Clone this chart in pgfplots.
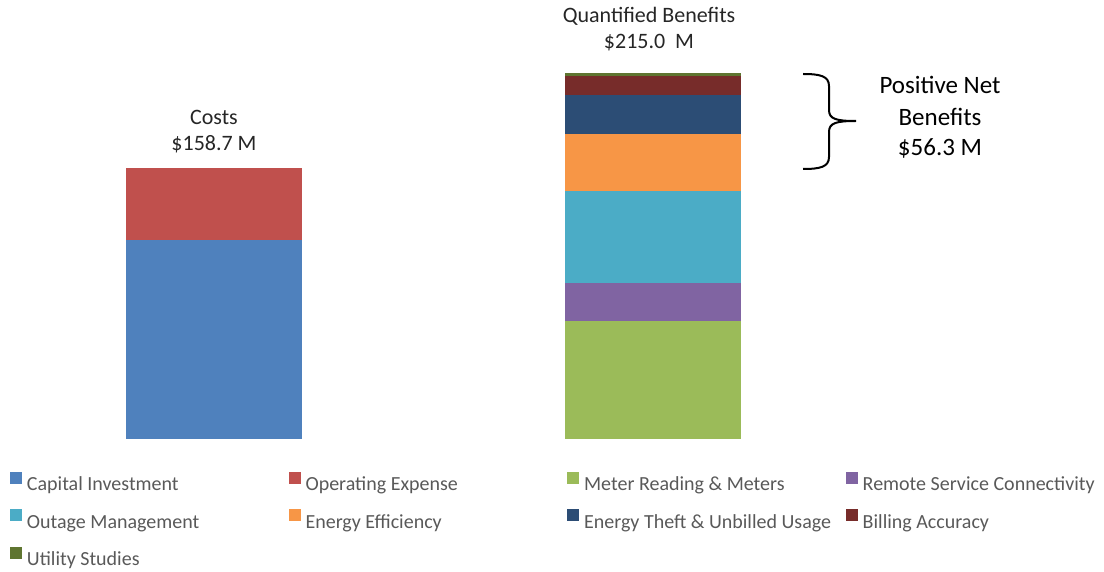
\documentclass[border=0pt]{standalone}
\usepackage{pgfplots}
\pgfplotsset{compat=1.18}
\usepackage{fontspec}
\setmainfont{Carlito}

\definecolor{capital}{HTML}{4F81BD}
\definecolor{operating}{HTML}{C0504D}
\definecolor{meter}{HTML}{9BBB59}
\definecolor{remote}{HTML}{8064A2}
\definecolor{outage}{HTML}{4BACC6}
\definecolor{effic}{HTML}{F79646}
\definecolor{theft}{HTML}{2C4D75}
\definecolor{billing}{HTML}{772C2A}
\definecolor{studies}{HTML}{5F7530}
\definecolor{legtext}{HTML}{595959}
\definecolor{titletext}{HTML}{262626}

\newcommand{\legentry}[1]{\makebox[128.8pt][l]{\strut #1}}

\begin{document}
\begin{tikzpicture}
\begin{axis}[
    at={(0,0)}, anchor=north west,
    scale only axis,
    width=552pt, height=286pt,
    xmin=0, xmax=1104,
    ymin=-78.4, ymax=257.6,
    hide axis,
    clip=false,
    ybar stacked,
    bar width=176,
    legend columns=4,
    legend cell align=left,
    legend style={
        at={(axis description cs:0.009,0.178)}, anchor=north west,
        draw=none, fill=none, inner sep=0pt, outer sep=0pt,
        font=\fontsize{10}{12}\selectfont, text=legtext,
        row sep=4.8pt,
        /tikz/every odd column/.append style={column sep=0.5pt},
    },
    legend image code/.code={\fill[#1] (0pt,0pt) rectangle (6pt,6pt);},
]
% x positions: 214 = Costs, 652.5 = Quantified Benefits
\addplot+[draw=none, fill=capital]   coordinates {(214,116.9) (652.5,0)};
\addplot+[draw=none, fill=operating] coordinates {(214,41.8)  (652.5,0)};
\addplot+[draw=none, fill=meter]     coordinates {(214,0) (652.5,69.2)};
\addplot+[draw=none, fill=remote]    coordinates {(214,0) (652.5,22.2)};
\addplot+[draw=none, fill=outage]    coordinates {(214,0) (652.5,53.8)};
\addplot+[draw=none, fill=effic]     coordinates {(214,0) (652.5,33.5)};
\addplot+[draw=none, fill=theft]     coordinates {(214,0) (652.5,23.1)};
\addplot+[draw=none, fill=billing]   coordinates {(214,0) (652.5,11.0)};
\addplot+[draw=none, fill=studies]   coordinates {(214,0) (652.5,2.2)};
\legend{\legentry{Capital Investment},\legentry{Operating Expense},\legentry{Meter Reading \& Meters},\legentry{Remote Service Connectivity},
        \legentry{Outage Management},\legentry{Energy Efficiency},\legentry{Energy Theft \& Unbilled Usage},\legentry{Billing Accuracy},
        \legentry{Utility Studies}}
\end{axis}

% annotations, in pixel units of the reference
\begin{scope}[x=0.5pt, y=-0.5pt]
  \node[text=titletext, font=\fontsize{11}{13}\selectfont] at (214,117) {Costs};
  \node[text=titletext, font=\fontsize{11}{13}\selectfont] at (214,144) {\$158.7 M};
  \node[text=titletext, font=\fontsize{11}{13}\selectfont] at (649,16) {Quantified Benefits};
  \node[text=titletext, font=\fontsize{11}{13}\selectfont] at (649,43) {\$215.0~~M};
  \draw[line width=1pt, black]
    (803,74) .. controls (820,74) and (829,76) .. (829,86) -- (829,110)
    .. controls (829,119) and (836,121) .. (856,121)
    .. controls (836,121) and (829,123) .. (829,132) -- (829,157)
    .. controls (829,167) and (820,169) .. (803,169);
  \node[font=\fontsize{12.5}{15}\selectfont] at (940,85) {Positive Net};
  \node[font=\fontsize{12.5}{15}\selectfont] at (940,117) {Benefits};
  \node[font=\fontsize{12.5}{15}\selectfont] at (940,148) {\$56.3 M};
\end{scope}
\pgfresetboundingbox
\path[use as bounding box] (0,0) rectangle (552pt,-286pt);
\end{tikzpicture}
\end{document}
